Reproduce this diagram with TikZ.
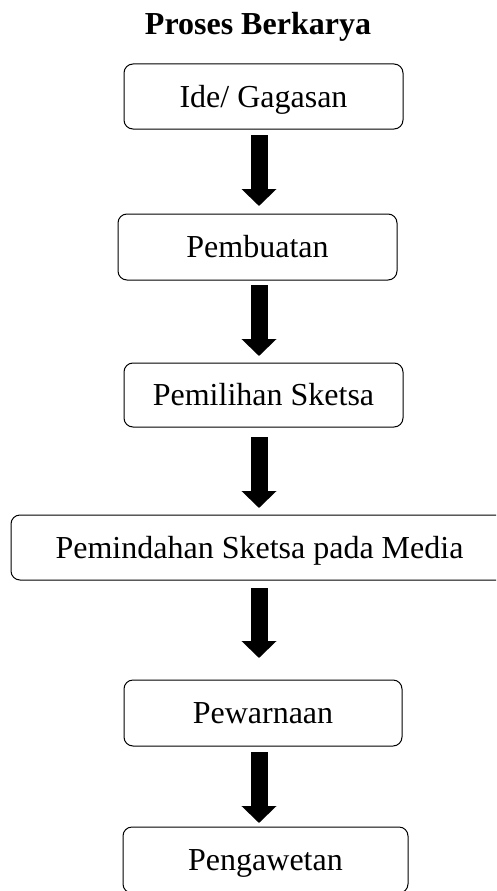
\documentclass[tikz,border=0pt]{standalone}
\usepackage{fontspec}
\setmainfont{Liberation Serif}
\usetikzlibrary{arrows.meta}
\begin{document}
\begin{tikzpicture}[x=1pt,y=-1pt,
  stepbox/.style={draw=black, line width=1pt, rounded corners=9pt, fill=white,
    inner sep=0pt, text height=21pt, text depth=0pt,
    font=\fontsize{32}{38}\selectfont},
  blockarrow/.style={line width=17pt, -{Triangle[width=34pt,length=17pt]}, black},
  titletext/.style={font=\fontsize{32}{38}\selectfont\bfseries, inner sep=0pt, anchor=base}]
\clip (0,0) rectangle (496,891);
\fill[white] (0,0) rectangle (496,891);

\node[titletext] (title) at (258,35) {Proses Berkarya};

\node[stepbox, minimum width=279pt, minimum height=65pt] (b1) at (263.5,96.5) {Ide/ Gagasan};
\node[stepbox, minimum width=279pt, minimum height=66pt] (b2) at (257.5,247) {Pembuatan};
\node[stepbox, minimum width=279pt, minimum height=64pt] (b3) at (263.5,395) {Pemilihan Sketsa};
\node[stepbox, minimum width=497pt, minimum height=65pt] (b4) at (259.5,547.5) {Pemindahan Sketsa pada Media};
\node[stepbox, minimum width=278pt, minimum height=66pt] (b5) at (263,713) {Pewarnaan};
\node[stepbox, minimum width=285pt, minimum height=66pt] (b6) at (265.5,860) {Pengawetan};

\coordinate (a1s) at (259,135); \coordinate (a1e) at (259,206);
\coordinate (a2s) at (259,285); \coordinate (a2e) at (259,356);
\coordinate (a3s) at (259,437); \coordinate (a3e) at (259,508);
\coordinate (a4s) at (259,588); \coordinate (a4e) at (259,658);
\coordinate (a5s) at (259,752); \coordinate (a5e) at (259,823);

\draw[blockarrow] (a1s) -- (a1e);
\draw[blockarrow] (a2s) -- (a2e);
\draw[blockarrow] (a3s) -- (a3e);
\draw[blockarrow] (a4s) -- (a4e);
\draw[blockarrow] (a5s) -- (a5e);
\end{tikzpicture}
\end{document}
